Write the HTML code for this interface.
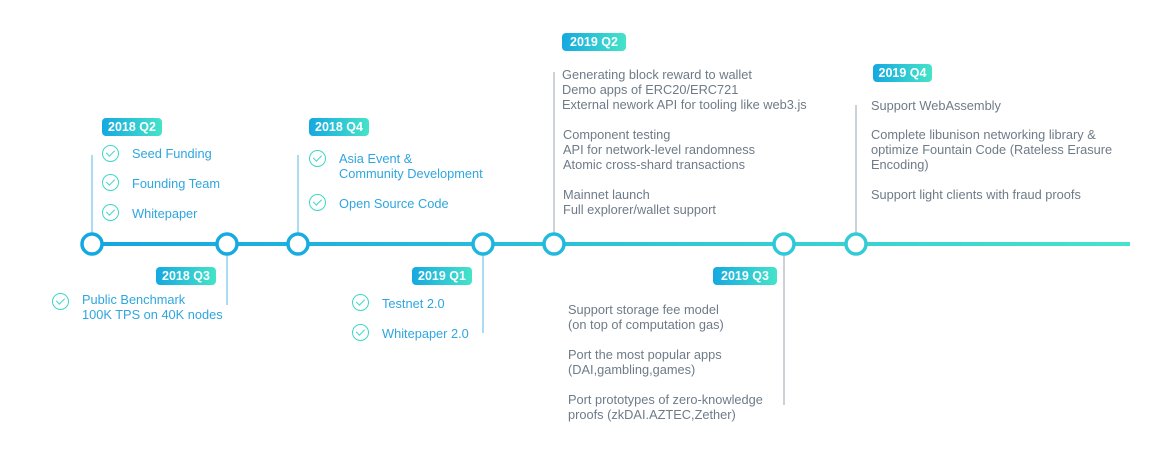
<!DOCTYPE html>
<html><head><meta charset="utf-8"><style>
body{margin:0;width:1166px;height:459px;background:#fff;position:relative;overflow:hidden;font-family:"Liberation Sans",sans-serif}
.b{position:absolute;height:18px;line-height:18px;border-radius:4px;color:#fff;font-weight:bold;font-size:12.5px;text-align:center;background:linear-gradient(90deg,#15a9e1,#45e3c8)}
.t{position:absolute;font-size:12.8px;color:#2fa6df;white-space:nowrap;line-height:15px}
.g{position:absolute;font-size:12.8px;color:#6e7b88;white-space:nowrap;line-height:15px}
.c{position:absolute;width:17px;height:17px;border:1.5px solid #3fd6c8;border-radius:50%;box-sizing:border-box}
.c:after{content:"";position:absolute;left:5px;top:2px;width:3.5px;height:7px;border:solid #3fd6c8;border-width:0 1.5px 1.5px 0;transform:rotate(45deg)}
</style></head><body>
<svg width="1166" height="459" style="position:absolute;left:0;top:0">
<defs><linearGradient id="lg" x1="0" x2="1"><stop offset="0" stop-color="#13a6e2"/><stop offset="1" stop-color="#45e3cc"/></linearGradient></defs>
<g stroke-width="1" stroke="#5bb8e6">
<line x1="92" y1="155" x2="92" y2="234"/><line x1="227" y1="254" x2="227" y2="305"/>
<line x1="298" y1="155" x2="298" y2="234"/><line x1="483" y1="254" x2="483" y2="333"/>
</g>
<g stroke-width="1" stroke="#9aa6b2">
<line x1="554" y1="72" x2="554" y2="234"/><line x1="784" y1="254" x2="784" y2="405"/>
<line x1="856" y1="105" x2="856" y2="234"/>
</g>
<rect x="82" y="242" width="1048" height="4" fill="url(#lg)"/>
<g fill="#fff" stroke-width="3.5">
<circle cx="92" cy="244" r="10" stroke="#14a8e1"/><circle cx="227" cy="244" r="10" stroke="#16aae1"/>
<circle cx="298" cy="244" r="10" stroke="#18ace0"/><circle cx="483" cy="244" r="10" stroke="#1eb5de"/>
<circle cx="554" cy="244" r="10" stroke="#22badc"/><circle cx="784" cy="244" r="10" stroke="#2ec8d8"/>
<circle cx="856" cy="244" r="10" stroke="#33ccd6"/>
</g></svg>
<div class="b" style="left:102px;top:118px;width:60px">2018 Q2</div>
<div class="b" style="left:156px;top:267px;width:60px">2018 Q3</div>
<div class="b" style="left:309px;top:118px;width:60px">2018 Q4</div>
<div class="b" style="left:412px;top:267px;width:60px">2019 Q1</div>
<div class="b" style="left:562px;top:33px;width:64px">2019 Q2</div>
<div class="b" style="left:713px;top:267px;width:64px">2019 Q3</div>
<div class="b" style="left:873px;top:64px;width:59px">2019 Q4</div>
<div class="c" style="left:102px;top:145px"></div><div class="t" style="left:132px;top:146px">Seed Funding</div>
<div class="c" style="left:102px;top:174px"></div><div class="t" style="left:132px;top:176px">Founding Team</div>
<div class="c" style="left:102px;top:204px"></div><div class="t" style="left:132px;top:206px">Whitepaper</div>
<div class="c" style="left:52px;top:293px"></div><div class="t" style="left:82px;top:292px">Public Benchmark<br>100K TPS on 40K nodes</div>
<div class="c" style="left:309px;top:150px"></div><div class="t" style="left:339px;top:151px">Asia Event &amp;<br>Community Development</div>
<div class="c" style="left:309px;top:194px"></div><div class="t" style="left:339px;top:196px">Open Source Code</div>
<div class="c" style="left:352px;top:294px"></div><div class="t" style="left:382px;top:296px">Testnet 2.0</div>
<div class="c" style="left:352px;top:324px"></div><div class="t" style="left:382px;top:326px">Whitepaper 2.0</div>
<div class="g" style="left:562px;top:67px">Generating block reward to wallet<br>Demo apps of ERC20/ERC721<br>External nework API for tooling like web3.js</div>
<div class="g" style="left:563px;top:127px">Component testing<br>API for network-level randomness<br>Atomic cross-shard transactions</div>
<div class="g" style="left:563px;top:187px">Mainnet launch<br>Full explorer/wallet support</div>
<div class="g" style="left:568px;top:302px">Support storage fee model<br>(on top of computation gas)</div>
<div class="g" style="left:568px;top:347px">Port the most popular apps<br>(DAI,gambling,games)</div>
<div class="g" style="left:568px;top:392px">Port prototypes of zero-knowledge<br>proofs (zkDAI.AZTEC,Zether)</div>
<div class="g" style="left:871px;top:98px">Support WebAssembly</div>
<div class="g" style="left:871px;top:127px">Complete libunison networking library &amp;<br>optimize Fountain Code (Rateless Erasure<br>Encoding)</div>
<div class="g" style="left:871px;top:187px">Support light clients with fraud proofs</div>
</body></html>
